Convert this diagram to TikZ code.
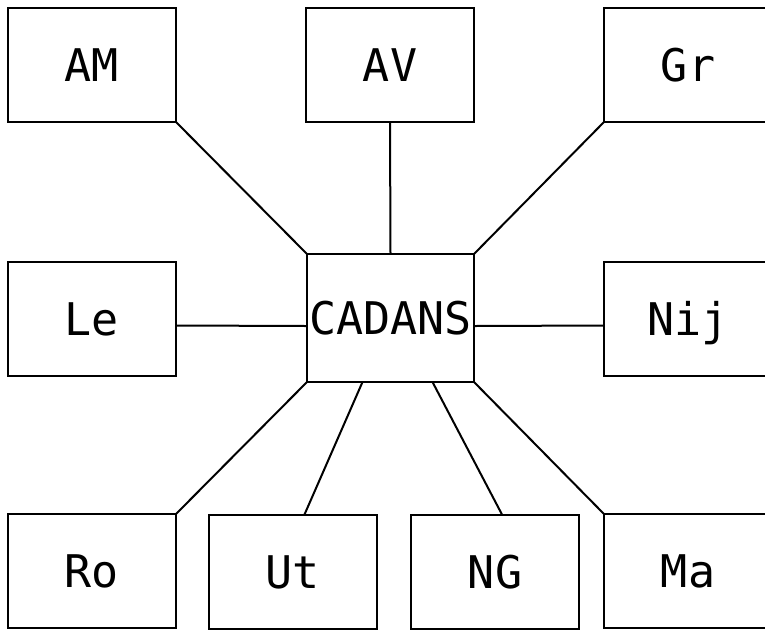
\documentclass[tikz,border=0pt]{standalone}
\usepackage{fontspec}
\newfontfamily\plotfont{DejaVu Sans Mono}

\begin{document}
\begin{tikzpicture}[x=1pt, y=-1pt, line width=2pt,
  every node/.style={font=\plotfont\fontsize{45}{45}\selectfont, text height=33pt, text depth=0pt},
  box/.style={draw, minimum width=168pt, minimum height=114pt, inner sep=0pt, outer sep=0pt},
  hub/.style={draw, minimum width=167pt, minimum height=128pt, inner sep=0pt, outer sep=0pt}]
  \useasboundingbox (0,0) rectangle (765,633);
  \clip (0,0) rectangle (765,633);
  % Zentrale
  \node[hub] (CADANS) at (390.5,318) {CADANS};
  % obere Reihe
  \node[box] (AM) at (92,65) {AM};
  \node[box] (AV) at (390,65) {AV};
  \node[box] (Gr) at (688,65) {Gr};
  % mittlere Reihe
  \node[box] (Le) at (92,318.5) {Le};
  \node[box] (Nij) at (688,318.5) {Nij};
  % untere Reihe
  \node[box] (Ro) at (92,571) {Ro};
  \node[box] (Ut) at (292.5,571.5) {Ut};
  \node[box] (NG) at (495,571.5) {NG};
  \node[box] (Ma) at (688,571) {Ma};
  % Verbindungen
  \draw (AM.south east) -- (CADANS.north west);
  \draw (AV.south) -- (CADANS.north);
  \draw (Gr.south west) -- (CADANS.north east);
  \draw ([yshift=-7pt]Le.east) -- ([yshift=-8pt]CADANS.west);
  \draw ([yshift=-8pt]CADANS.east) -- ([yshift=-7pt]Nij.west);
  \draw (CADANS.south west) -- (Ro.north east);
  \draw ([xshift=-28pt]CADANS.south) -- ([xshift=12pt]Ut.north);
  \draw ([xshift=42pt]CADANS.south) -- ([xshift=7pt]NG.north);
  \draw (CADANS.south east) -- (Ma.north west);
\end{tikzpicture}
\end{document}
